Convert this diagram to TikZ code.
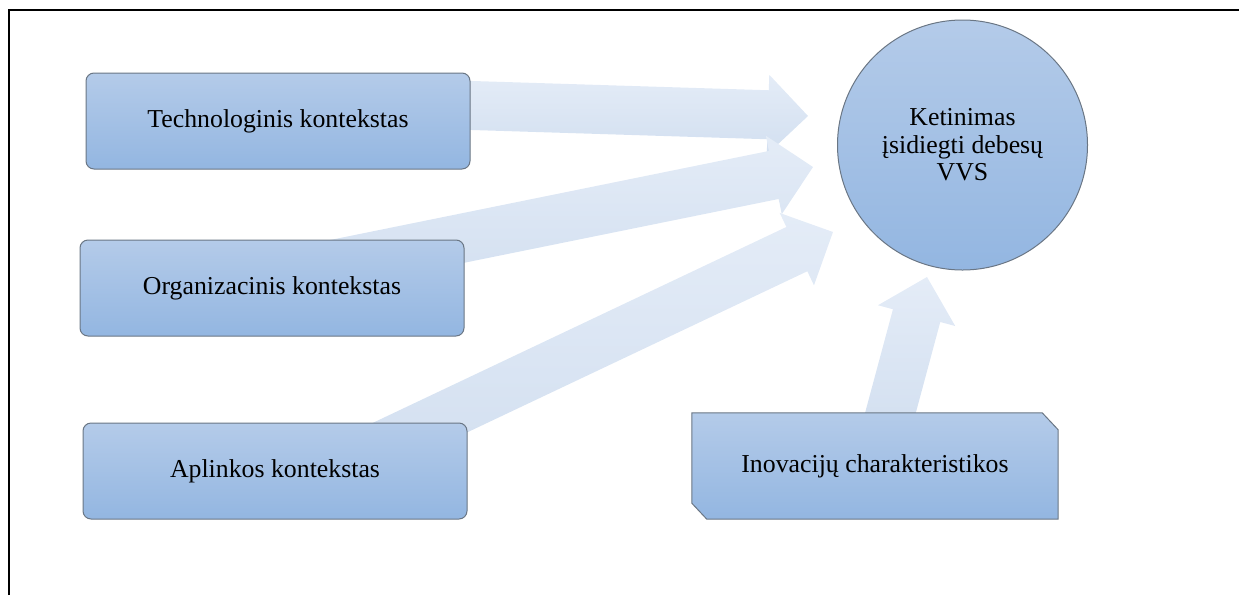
\documentclass[tikz,border=0pt]{standalone}
\usepackage{fontspec}
\setmainfont{Liberation Serif}
\usetikzlibrary{calc}

\definecolor{boxtop}{HTML}{B4CBE9}
\definecolor{boxbot}{HTML}{93B6E1}
\definecolor{boxline}{HTML}{6A7684}
\definecolor{arrtop}{HTML}{E4ECF7}
\definecolor{arrbot}{HTML}{D2DFF0}

\pgfdeclarelayer{bg}
\pgfdeclarelayer{mid}
\pgfsetlayers{bg,mid,main}

\tikzset{
  labelfont/.style={font=\fontsize{25.8}{27.5}\selectfont},
  boxpaint/.style={draw=boxline, line width=1, top color=boxtop, bottom color=boxbot},
  ctxbox/.style={rectangle, rounded corners=8, boxpaint,
    minimum width=384, minimum height=96, inner sep=0, labelfont},
  charbox/.style={rectangle, minimum width=366, minimum height=106, inner sep=0, labelfont},
  goalnode/.style={circle, boxpaint, minimum size=250, inner sep=0, align=center, labelfont},
  arrowbody/.style={top color=arrtop, bottom color=arrbot, draw=none},
  frameline/.style={line width=1.3, draw=black}
}

% block arrow from tail coordinate #1 to tip coordinate #2
\newcommand\blockarrow[2]{%
  \coordinate (#2h) at ($(#2)!40pt!(#1)$);
  \path[arrowbody]
    ($(#1)!24.5pt!90:(#2)$) -- ($(#2h)!24.5pt!90:(#2)$) -- ($(#2h)!40pt!90:(#2)$)
    -- (#2) -- ($(#2h)!40pt!-90:(#2)$) -- ($(#2h)!24.5pt!-90:(#2)$)
    -- ($(#1)!24.5pt!-90:(#2)$) -- cycle;
}

\begin{document}
\begin{tikzpicture}[x=1pt,y=-1pt]
  \useasboundingbox (0,0) rectangle (1239,595);

  % page frame
  \draw[frameline] (9,595) -- (9,10) -- (1239,10);

  % context boxes
  \node[ctxbox] (tech) at (278,121) {Technologinis kontekstas};
  \node[ctxbox] (org)  at (272,288) {Organizacinis kontekstas};
  \node[ctxbox] (env)  at (275,471) {Aplinkos kontekstas};
  \node[charbox] (inov) at (875,466) {Inovacijų charakteristikos};

  % snipped-corner outline of the characteristics box
  \begin{pgfonlayer}{mid}
    \path[boxpaint]
      (inov.north west) -- ($(inov.north east)+(-16,0)$) -- ($(inov.north east)+(0,17)$)
      -- (inov.south east) -- ($(inov.south west)+(15,0)$) -- ($(inov.south west)+(0,-16)$)
      -- cycle;
  \end{pgfonlayer}

  % target
  \node[goalnode] (goal) at (962.5,145) {Ketinimas\\įsidiegti debesų\\VVS};

  % arrow tails (hidden behind the boxes) and tips
  \coordinate (techtail) at ($(tech.east)+(-30,-16.5)$);
  \coordinate (orgtail)  at ($(org.east)+(-164,-17)$);
  \coordinate (envtail)  at ($(env.east)+(-107,-15.2)$);
  \coordinate (inovtail) at ($(inov.north)+(10.6,18)$);
  \coordinate (techtip) at (808,116);
  \coordinate (orgtip)  at (813,167);
  \coordinate (envtip)  at (833,232);
  \coordinate (inovtip) at (927,277);

  \begin{pgfonlayer}{bg}
    \blockarrow{techtail}{techtip}
    \blockarrow{orgtail}{orgtip}
    \blockarrow{envtail}{envtip}
    \blockarrow{inovtail}{inovtip}
  \end{pgfonlayer}
\end{tikzpicture}
\end{document}
